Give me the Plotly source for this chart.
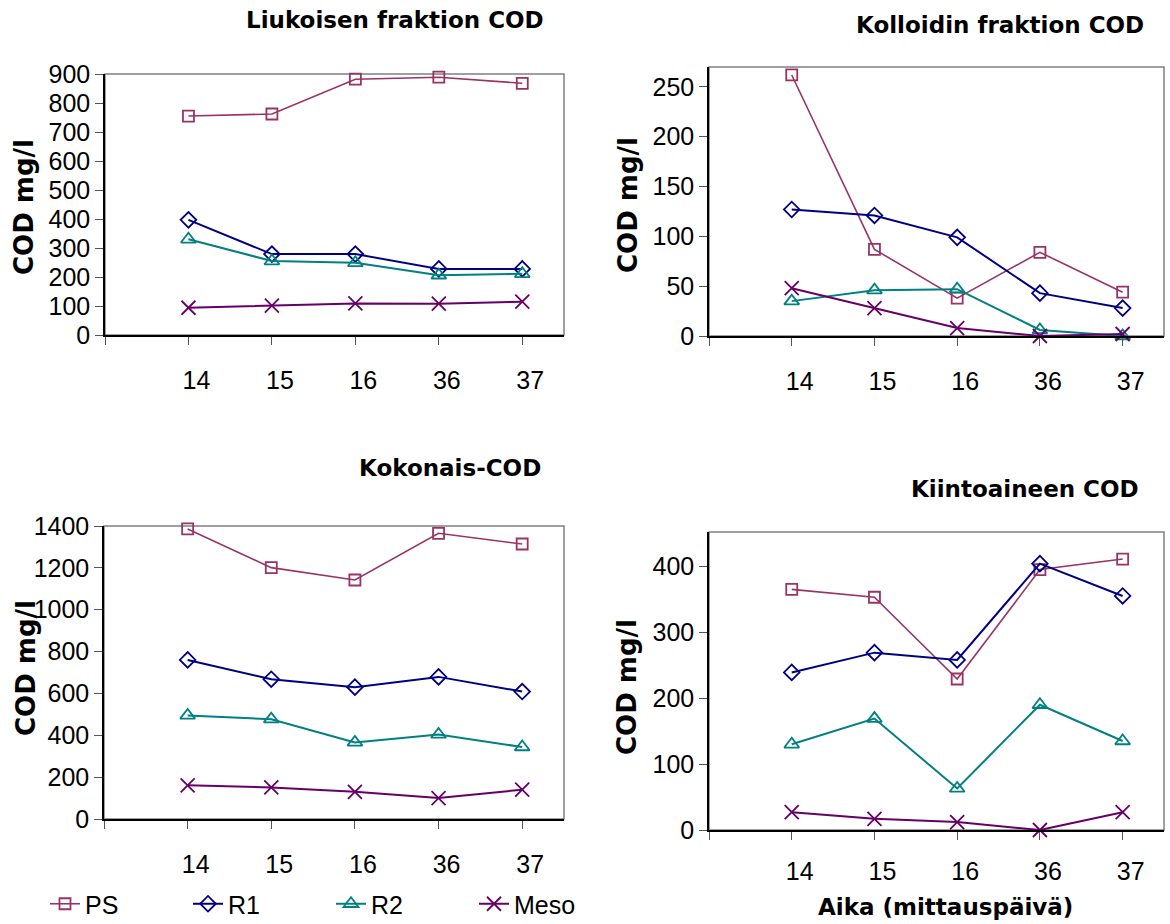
import plotly.graph_objects as go

# Measurement days (x categories) and series
days = ["14", "15", "16", "36", "37"]
series = ["PS", "R1", "R2", "Meso"]

# Liukoisen fraktion COD (mg/l)
liuk_ps = [755, 762, 882, 889, 868]
liuk_r1 = [397, 279, 279, 228, 228]
liuk_r2 = [330, 255, 249, 206, 211]
liuk_meso = [94, 101, 109, 108, 115]

# Kolloidin fraktion COD (mg/l)
koll_ps = [262, 87, 38, 84, 44]
koll_r1 = [127, 121, 99, 43, 28]
koll_r2 = [35, 46, 47, 6, 0]
koll_meso = [48, 28, 8, 0, 2]

# Kokonais-COD (mg/l)
kok_ps = [1386, 1201, 1142, 1365, 1314]
kok_r1 = [760, 668, 630, 679, 609]
kok_r2 = [495, 477, 366, 404, 344]
kok_meso = [161, 151, 130, 100, 140]

# Kiintoaineen COD (mg/l)
kiin_ps = [365, 353, 229, 395, 411]
kiin_r1 = [239, 269, 258, 404, 355]
kiin_r2 = [130, 169, 63, 190, 135]
kiin_meso = [27, 17, 12, 0, 27]

W, H = 1170, 924

colors = {"PS": "#993366", "R1": "#000080", "R2": "#008080", "Meso": "#660066"}
symbols = {"PS": "square-open", "R1": "diamond-open", "R2": "triangle-up-open", "Meso": "x-thin-open"}
msizes = {"PS": 11, "R1": 12, "R2": 13, "Meso": 14}
lwidths = {"PS": 1.6, "R1": 2, "R2": 2, "Meso": 2}

panels = [
    dict(title="Liukoisen fraktion COD", values=[liuk_ps, liuk_r1, liuk_r2, liuk_meso],
         ymax=900, dtick=100, box=(105, 74, 564, 335), tpos=(395, 20), ypos=(24, 207), stand=14),
    dict(title="Kolloidin fraktion COD", values=[koll_ps, koll_r1, koll_r2, koll_meso],
         ymax=270, dtick=50, box=(709, 67, 1164, 336), tpos=(1000, 25), ypos=(628, 205), stand=14),
    dict(title="Kokonais-COD", values=[kok_ps, kok_r1, kok_r2, kok_meso],
         ymax=1400, dtick=200, box=(104, 526, 564, 819), tpos=(450, 468), ypos=(26, 668), stand=14),
    dict(title="Kiintoaineen COD", values=[kiin_ps, kiin_r1, kiin_r2, kiin_meso],
         ymax=452, dtick=100, box=(709, 532, 1164, 830), tpos=(1025, 489), ypos=(627, 687), stand=10),
]

tick_font = dict(family="Liberation Sans", size=25, color="black")
bold_font = "DejaVu Sans"

xpos = list(range(len(days)))

fig = go.Figure()
annotations = []
shapes = []
layout = {}

for i, p in enumerate(panels):
    n = "" if i == 0 else str(i + 1)
    x0, y0, x1, y1 = p["box"]
    xd = [x0 / W, x1 / W]
    yd = [1 - y1 / H, 1 - y0 / H]
    for name, vals in zip(series, p["values"]):
        fig.add_trace(go.Scatter(
            x=xpos, y=vals, name=name, mode="lines+markers",
            xaxis="x" + n, yaxis="y" + n,
            legendgroup=name, showlegend=(i == 0),
            line=dict(color=colors[name], width=lwidths[name]),
            marker=dict(symbol=symbols[name], size=msizes[name], color=colors[name],
                        line=dict(color=colors[name], width=1.8)),
            cliponaxis=False,
        ))
    layout["xaxis" + n] = dict(
        domain=xd, anchor="y" + n, range=[-1, 4.5],
        tickvals=[-1] + xpos, ticktext=[""] + days,
        ticks="outside", ticklen=8, tickwidth=1, tickcolor="#555555",
        showline=True, linecolor="black", linewidth=1.5, showgrid=False, zeroline=False,
        tickfont=tick_font, ticklabelstandoff=p["stand"], ticklabelshift=8,
    )
    layout["yaxis" + n] = dict(
        domain=yd, anchor="x" + n, range=[0, p["ymax"]], dtick=p["dtick"],
        ticks="outside", ticklen=8, tickwidth=1, tickcolor="#555555",
        showline=True, linecolor="black", linewidth=1.5, showgrid=False, zeroline=False,
        tickfont=tick_font, ticklabelstandoff=0,
    )
    shapes.append(dict(type="rect", xref="paper", yref="paper", layer="below",
                       x0=xd[0], x1=xd[1], y0=yd[0], y1=yd[1],
                       line=dict(color="#808080", width=1.5)))
    annotations.append(dict(text=p["title"], xref="paper", yref="paper",
                            x=p["tpos"][0] / W, y=1 - p["tpos"][1] / H,
                            xanchor="center", yanchor="middle", showarrow=False,
                            font=dict(family=bold_font, size=23, color="black", weight="bold")))
    annotations.append(dict(text="COD mg/l", xref="paper", yref="paper", textangle=-90,
                            x=p["ypos"][0] / W, y=1 - p["ypos"][1] / H,
                            xanchor="center", yanchor="middle", showarrow=False,
                            font=dict(family=bold_font, size=26, color="black", weight="bold")))

annotations.append(dict(text="Aika (mittauspäivä)", xref="paper", yref="paper",
                        x=945 / W, y=1 - 907 / H, xanchor="center", yanchor="middle",
                        showarrow=False,
                        font=dict(family=bold_font, size=23, color="black", weight="bold")))

fig.update_layout(
    **layout,
    width=W, height=H,
    margin=dict(l=0, r=0, t=0, b=0, autoexpand=False),
    paper_bgcolor="white", plot_bgcolor="white",
    annotations=annotations, shapes=shapes,
    legend=dict(orientation="h", x=45 / W, y=1 - 904 / H, xanchor="left", yanchor="middle",
                font=tick_font, entrywidth=98, entrywidthmode="pixels",
                bgcolor="rgba(0,0,0,0)"),
)

fig.write_html("out.html")
